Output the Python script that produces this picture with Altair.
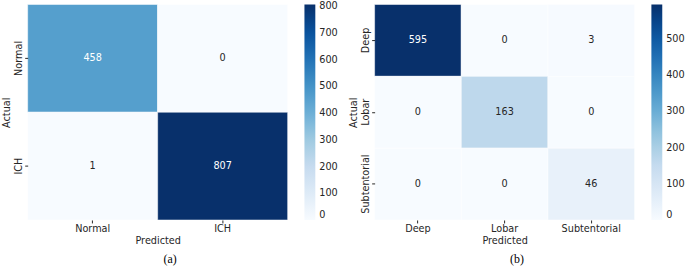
import altair as alt
import pandas as pd

labels_a = ["Normal", "ICH"]
counts_a = [[458, 0], [1, 807]]
ticks_a = [0, 100, 200, 300, 400, 500, 600, 700, 800]

labels_b = ["Deep", "Lobar", "Subtentorial"]
counts_b = [[595, 0, 3], [0, 163, 0], [0, 0, 46]]
ticks_b = [0, 100, 200, 300, 400, 500]

blues = ["#f7fbff", "#deebf7", "#c6dbef", "#9ecae1", "#6baed6",
         "#4292c6", "#2171b5", "#08519c", "#08306b"]

DARK = "#262626"
FONT = "DejaVu Sans"
FS = 9.8


def panel(labels, counts, ticks, caption):
    rows = []
    for i, a in enumerate(labels):
        for j, p in enumerate(labels):
            rows.append({"actual": a, "pred": p, "value": counts[i][j]})
    df = pd.DataFrame(rows)
    vmax = max(max(r) for r in counts)
    stops = [vmax * k / 8 for k in range(9)]

    base = alt.Chart(df).encode(
        x=alt.X("pred:N", sort=labels, axis=alt.Axis(
            title="Predicted", labelAngle=0, domain=False, tickSize=3,
            tickColor=DARK, labelColor=DARK, titleColor=DARK,
            labelFont=FONT, titleFont=FONT, labelFontSize=FS, titleFontSize=FS,
            titleFontWeight="normal", labelPadding=1, titlePadding=2)),
        y=alt.Y("actual:N", sort=labels, axis=alt.Axis(
            title="Actual", labelAngle=270, labelAlign="center",
            labelBaseline="bottom", domain=False, tickSize=3,
            tickColor=DARK, labelColor=DARK, titleColor=DARK,
            labelFont=FONT, titleFont=FONT, labelFontSize=FS, titleFontSize=FS,
            titleFontWeight="normal", labelPadding=1, titlePadding=2)),
    )
    rect = base.mark_rect(stroke="white", strokeWidth=0.5).encode(
        color=alt.Color("value:Q",
                        scale=alt.Scale(domain=stops, range=blues, interpolate="rgb"),
                        legend=alt.Legend(title=None, gradientLength=218,
                                          gradientThickness=11, values=ticks,
                                          labelFont=FONT, labelFontSize=FS,
                                          labelColor=DARK, offset=17, padding=0,
                                          gradientStrokeWidth=0, labelOffset=4,
                                          direction="vertical", orient="right"))
    )
    text = base.mark_text(font=FONT, fontSize=FS).encode(
        text="value:Q",
        color=alt.condition(alt.datum.value > vmax * 0.45,
                            alt.value("white"), alt.value(DARK)),
    )
    return alt.layer(rect, text).properties(
        width=263, height=218,
        title=alt.TitleParams(caption, orient="bottom", font="Liberation Serif",
                              fontSize=12, fontWeight="normal", color="black",
                              offset=9, frame="bounds", anchor="middle"),
    )


left = panel(labels_a, counts_a, ticks_a, "(a)")
right = panel(labels_b, counts_b, ticks_b, "(b)")

chart = alt.hconcat(left, right, spacing=11).resolve_scale(color="independent").properties(
    padding={"left": 2, "top": 2, "right": 0, "bottom": 0}
).configure_view(stroke=None)

chart.save("out.html", embed_options={"renderer": "svg", "actions": False})
